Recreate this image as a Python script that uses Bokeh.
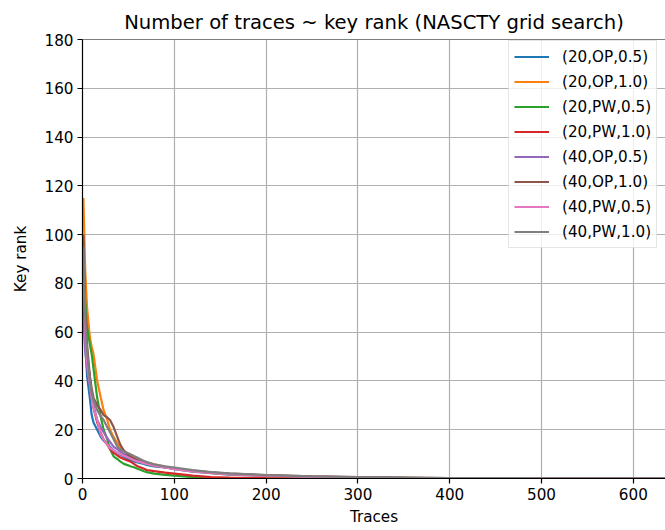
from bokeh.plotting import figure
from bokeh.models import Range1d, Legend, LegendItem, Span, FixedTicker
from bokeh.embed import file_html
from bokeh.resources import INLINE

traces = [1, 3, 5, 8, 10, 12, 16, 20, 23, 27, 30, 34, 38, 41, 45, 49, 52, 56, 60, 67, 70, 78, 90, 100,
          120, 140, 160, 200, 250, 300, 350, 400, 500, 600, 640]

s_20_op_05 = [75, 55, 42, 33, 26, 23, 20, 17, 15.6, 14, 13, 11.5, 10.5, 9.8, 9, 8, 7.6, 7, 6.6, 6, 5.6, 5, 4.6, 3.8,
              2.8, 2.2, 1.6, 1.1, 0.7, 0.4, 0.2, 0.1, 0, 0, 0]
s_20_op_10 = [115, 85, 70, 58, 54, 51, 40, 33, 28, 24, 20, 17, 14.5, 13, 11.5, 10, 9.4, 8.7, 7.8, 6.8, 6.4, 5.8, 4.8, 4,
              3, 2.3, 1.8, 1.2, 0.8, 0.5, 0.3, 0.1, 0, 0, 0]
s_20_pw_05 = [90, 72, 62, 55, 51, 45, 33, 25, 20, 16, 12, 9, 8, 7, 6, 5.5, 5, 4.6, 4, 3, 2.6, 2, 1.5, 1.2,
              0.6, 0.3, 0.2, 0.1, 0, 0, 0, 0, 0, 0, 0]
s_20_pw_10 = [80, 60, 50, 42, 34, 29, 23, 18.6, 16, 14, 12, 10.5, 9.5, 8.7, 8, 7.4, 7, 6, 5, 4, 3.5, 3, 2.4, 2,
              1.2, 0.6, 0.4, 0.2, 0.1, 0, 0, 0, 0, 0, 0]
s_40_op_05 = [65, 52, 45, 38, 33, 30, 24, 21, 19, 16.5, 15, 13, 12, 11, 10, 9.4, 9, 8.2, 7.6, 7, 6.7, 5.6, 4.8, 4,
              3, 2.4, 1.9, 1.3, 0.8, 0.5, 0.3, 0.2, 0.1, 0, 0]
s_40_op_10 = [100, 68, 55, 42, 37, 33, 30, 28, 26, 25, 24, 21, 17, 14, 11.5, 10, 9, 8, 7.4, 6.5, 6, 5.3, 4.5, 4,
              3.2, 2.5, 2, 1.4, 0.9, 0.6, 0.4, 0.2, 0.1, 0.05, 0.05]
s_40_pw_05 = [85, 60, 48, 39, 33, 29, 24, 18, 16, 14, 12.5, 11.5, 10.5, 10, 9.3, 8.7, 8.2, 7.5, 7, 6.3, 6, 5.3, 4.5, 3.8,
              2.9, 2.3, 1.8, 1.2, 0.7, 0.4, 0.2, 0.1, 0, 0, 0]
s_40_pw_10 = [95, 65, 52, 40, 35, 32, 28, 25.5, 24, 21, 19, 16, 13, 12, 11, 10.5, 10, 9.2, 8.5, 7.2, 6.7, 5.8, 5, 4.5,
              3.4, 2.6, 2.1, 1.4, 0.9, 0.6, 0.4, 0.2, 0.1, 0.05, 0.05]

labels = ["(20,OP,0.5)", "(20,OP,1.0)", "(20,PW,0.5)", "(20,PW,1.0)",
          "(40,OP,0.5)", "(40,OP,1.0)", "(40,PW,0.5)", "(40,PW,1.0)"]
series = [s_20_op_05, s_20_op_10, s_20_pw_05, s_20_pw_10, s_40_op_05, s_40_op_10, s_40_pw_05, s_40_pw_10]
colors = ["#1f77b4", "#ff7f0e", "#2ca02c", "#d62728", "#9467bd", "#8c564b", "#e377c2", "#7f7f7f"]

x_ticks = [0, 100, 200, 300, 400, 500, 600]
y_ticks = [0, 20, 40, 60, 80, 100, 120, 140, 160, 180]

FONT = "DejaVu Sans"
FS = "15.2px"

p = figure(width=665, height=528, output_backend="svg", toolbar_location=None,
           x_range=Range1d(0, 635), y_range=Range1d(0, 180),
           min_border_left=82, min_border_right=0, min_border_top=39, min_border_bottom=50)

p.title.text = "Number of traces ~ key rank (NASCTY grid search)"
p.title.text_font = FONT
p.title.text_font_size = "19.6px"
p.title.text_font_style = "normal"
p.title.text_color = "black"
p.title.align = "center"
p.title.offset = 3
p.title.standoff = 12
p.outline_line_color = None

items = []
for lab, ys, c in zip(labels, series, colors):
    r = p.line(traces, ys, line_color=c, line_width=2.2)
    items.append(LegendItem(label=lab, renderers=[r]))

p.add_layout(Span(location=180, dimension="width", line_color="black", line_width=1.2))

for ax in (p.xaxis[0], p.yaxis[0]):
    ax.axis_line_color = "black"
    ax.axis_line_width = 1.2
    ax.major_tick_line_color = "black"
    ax.major_tick_line_width = 1.2
    ax.major_tick_out = 5
    ax.major_tick_in = 0
    ax.minor_tick_line_color = None
    ax.major_label_text_font = FONT
    ax.major_label_text_font_size = FS
    ax.major_label_text_color = "black"
    ax.axis_label_text_font = FONT
    ax.axis_label_text_font_size = FS
    ax.axis_label_text_font_style = "normal"
    ax.axis_label_text_color = "black"

p.xaxis[0].ticker = FixedTicker(ticks=x_ticks)
p.yaxis[0].ticker = FixedTicker(ticks=y_ticks)
p.xaxis[0].axis_label = "Traces"
p.yaxis[0].axis_label = "Key rank"
p.xaxis[0].major_label_standoff = 4
p.xaxis[0].axis_label_standoff = 5
p.yaxis[0].major_label_standoff = 4
p.yaxis[0].axis_label_standoff = 12

for g in (p.xgrid[0], p.ygrid[0]):
    g.grid_line_color = "#b0b0b0"
    g.grid_line_width = 1.2
p.xgrid[0].ticker = FixedTicker(ticks=x_ticks)
p.ygrid[0].ticker = FixedTicker(ticks=y_ticks)

legend = Legend(items=items, location=(426, 230))
legend.label_text_font = FONT
legend.label_text_font_size = FS
legend.label_text_color = "black"
legend.glyph_width = 35
legend.glyph_height = 21
legend.label_height = 21
legend.spacing = 4
legend.padding = 5
legend.margin = 0
legend.label_standoff = 13
legend.border_line_color = "#cccccc"
legend.border_line_width = 1
legend.background_fill_alpha = 0.8
p.add_layout(legend)

open("out.html", "w").write(file_html(p, INLINE))
